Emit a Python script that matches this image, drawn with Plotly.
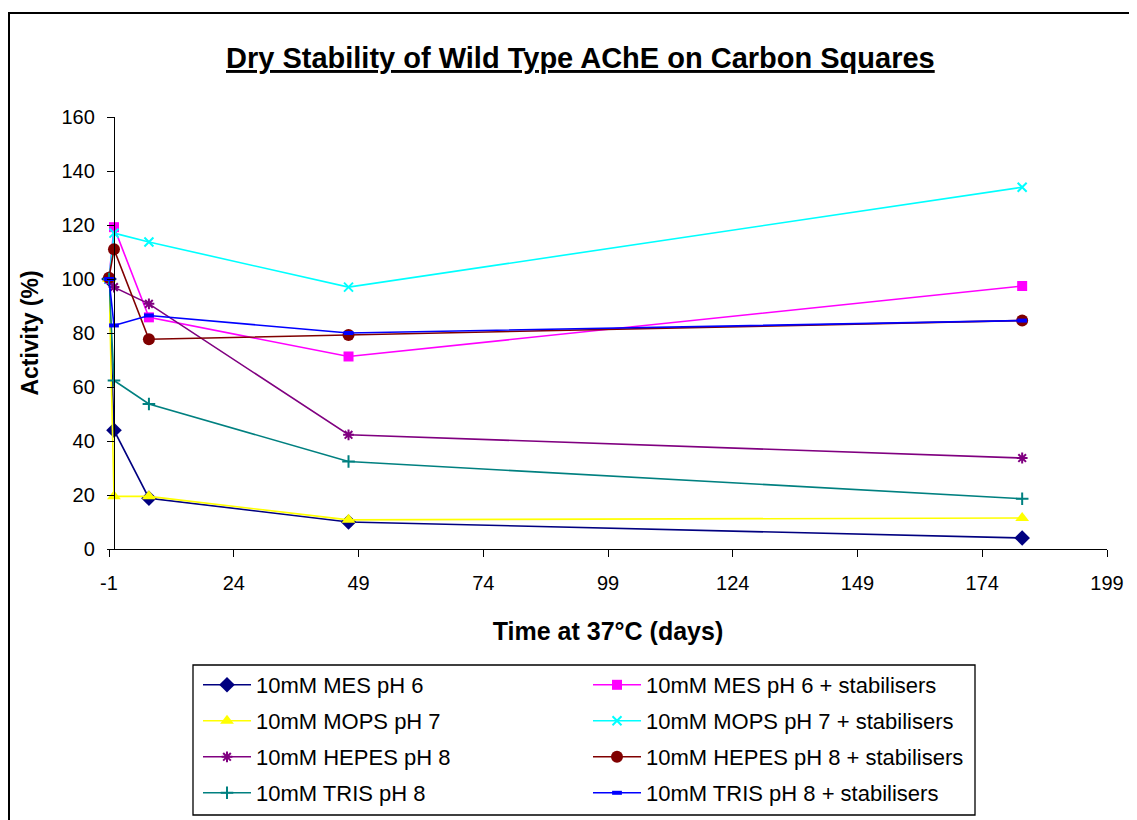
import plotly.graph_objects as go

# ---- data ----
days = [-1, 0, 7, 47, 182]

mes_ph6 = [100, 44, 18.8, 10.0, 4.1]
mops_ph7 = [100, 19.5, 19.5, 10.8, 11.5]
hepes_ph8 = [100, 97, 90.8, 42.3, 33.7]
tris_ph8 = [100, 62.4, 53.7, 32.4, 18.6]
mes_ph6_stab = [100, 119.2, 85.8, 71.3, 97.4]
mops_ph7_stab = [100, 117.0, 113.7, 97.0, 134.0]
hepes_ph8_stab = [100.5, 111.0, 77.7, 79.3, 84.6]
tris_ph8_stab = [100, 82.8, 86.5, 80.0, 84.6]

series_names = [
    "10mM MES pH 6",
    "10mM MES pH 6 + stabilisers",
    "10mM MOPS pH 7",
    "10mM MOPS pH 7 + stabilisers",
    "10mM HEPES pH 8",
    "10mM HEPES pH 8 + stabilisers",
    "10mM TRIS pH 8",
    "10mM TRIS pH 8 + stabilisers",
]
series_values = [mes_ph6, mes_ph6_stab, mops_ph7, mops_ph7_stab,
                 hepes_ph8, hepes_ph8_stab, tris_ph8, tris_ph8_stab]

x_ticks = [-1, 24, 49, 74, 99, 124, 149, 174, 199]
y_ticks = [0, 20, 40, 60, 80, 100, 120, 140, 160]

# ---- styles ----
styles = [
    dict(color="#000080", symbol="diamond", size=12, lw=0),
    dict(color="#FF00FF", symbol="square", size=10, lw=0),
    dict(color="#FFFF00", symbol="triangle-up", size=12, lw=0),
    dict(color="#00FFFF", symbol="x-thin-open", size=9, lw=2),
    dict(color="#800080", symbol="asterisk-open", size=9, lw=2),
    dict(color="#800000", symbol="circle", size=12, lw=0),
    dict(color="#008080", symbol="cross-thin-open", size=9, lw=2),
    dict(color="#0000FF", symbol="line-ew-open", size=7, lw=4),
]

FONT = "Liberation Sans, Arial, sans-serif"
W, H = 1137, 820
OFF = 8  # page body margin
# plot area in screen pixels: x 109..1107, y 117..549
ML, MT = 109 - OFF, 117 - OFF
MR = W - (1107 - OFF)
MB = H - (549 - OFF)
PW = W - ML - MR
PH = H - MT - MB


def px_x(s):
    return (s - OFF - ML) / PW


def px_y(s):
    return (H - MB - (s - OFF)) / PH


# legend placement (8 single-entry legends laid out as 2 columns x 4 rows)
col_x = [px_x(198), px_x(588)]
row_y = [px_y(686 - 1), px_y(722 - 1), px_y(758 - 1), px_y(794 - 1)]

fig = go.Figure()
legend_layouts = {}
for i, (name, vals, st) in enumerate(zip(series_names, series_values, styles)):
    lname = "legend" if i == 0 else f"legend{i + 1}"
    fig.add_trace(go.Scatter(
        x=days, y=vals, name=name, mode="lines+markers",
        line=dict(color=st["color"], width=1.6),
        marker=dict(color=st["color"], symbol=st["symbol"], size=st["size"],
                    line=dict(color=st["color"], width=st["lw"])),
        legend=lname, cliponaxis=False,
    ))
    legend_layouts[lname] = dict(
        x=col_x[i % 2], y=row_y[i // 2], xanchor="left", yanchor="middle",
        bgcolor="rgba(0,0,0,0)", borderwidth=0, itemwidth=48,
        font=dict(family=FONT, size=22, color="black"),
    )

fig.update_layout(
    width=W, height=H,
    margin=dict(l=ML, r=MR, t=MT, b=MB),
    paper_bgcolor="white", plot_bgcolor="white",
    font=dict(family=FONT, color="black"),
    showlegend=True,
    xaxis=dict(
        range=[-1, 199], tickvals=x_ticks, ticktext=[str(v) for v in x_ticks],
        showgrid=False, zeroline=False, showline=True, linecolor="black", linewidth=1.3,
        ticks="outside", ticklen=7, tickwidth=1.3, tickcolor="black",
        tickfont=dict(family=FONT, size=20), ticklabelstandoff=9,
        title=dict(text="<b>Time at 37°C (days)</b>", font=dict(family=FONT, size=25), standoff=29),
    ),
    yaxis=dict(
        range=[0, 160], tickvals=y_ticks,
        anchor="free", position=1 / 200,
        showgrid=False, zeroline=False, showline=True, linecolor="black", linewidth=1.3,
        ticks="outside", ticklen=7, tickwidth=1.3, tickcolor="black",
        tickfont=dict(family=FONT, size=20), ticklabelstandoff=8,
        title=dict(text="<b>Activity (%)</b>", font=dict(family=FONT, size=23), standoff=15),
    ),
    annotations=[dict(
        text="<b><u>Dry Stability of Wild Type AChE on Carbon Squares</u></b>",
        xref="paper", yref="paper", x=px_x(580), y=px_y(58),
        xanchor="center", yanchor="middle", showarrow=False,
        font=dict(family=FONT, size=29, color="black"),
    )],
    shapes=[
        dict(type="rect", xref="paper", yref="paper",
             x0=px_x(193), x1=px_x(975), y0=px_y(815), y1=px_y(665),
             line=dict(color="black", width=1.3), fillcolor="rgba(0,0,0,0)", layer="below"),
        dict(type="rect", xref="paper", yref="paper",
             x0=px_x(9), x1=px_x(1160), y0=px_y(850), y1=px_y(13),
             line=dict(color="black", width=2), fillcolor="rgba(0,0,0,0)", layer="below"),
    ],
    **legend_layouts,
)

fig.write_html("out.html")
